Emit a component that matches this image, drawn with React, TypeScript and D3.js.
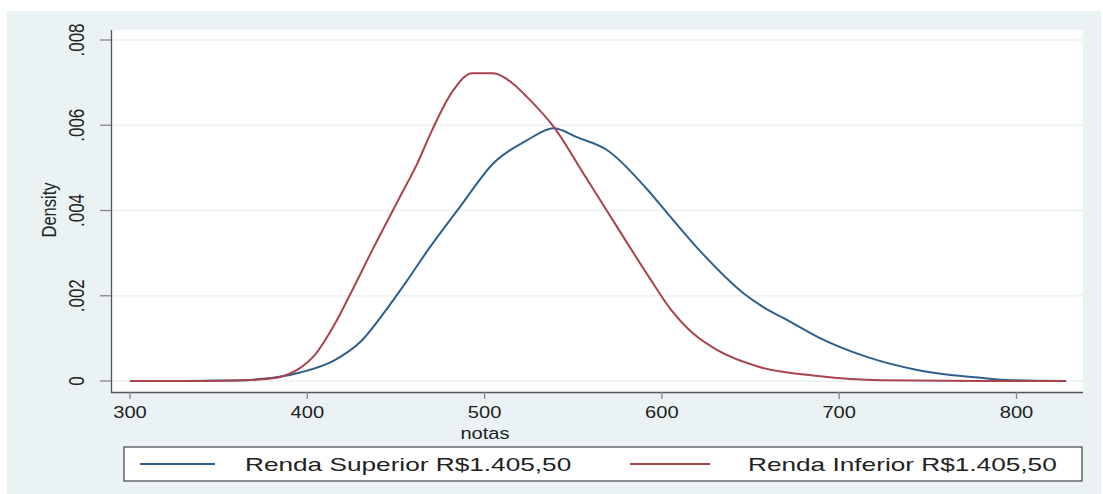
import React from "react";
import * as d3 from "d3";

const yTicks = [0, 0.002, 0.004, 0.006, 0.008];
const yTickLabels = ["0", ".002", ".004", ".006", ".008"];
const xTicks = [300, 400, 500, 600, 700, 800];

const superiorX = [300, 330, 355, 375, 396, 415, 430, 445, 457, 468, 486, 505, 524, 539, 552, 569, 592, 603, 622, 646, 657, 672, 688, 716, 744, 781, 797, 828];
const superiorY = [0, 0, 0.00001, 0.00005, 0.0002, 0.00048, 0.00092, 0.0017, 0.0024, 0.00307, 0.00408, 0.00511, 0.00565, 0.00593, 0.00572, 0.00542, 0.00448, 0.00394, 0.00303, 0.00206, 0.00174, 0.0014, 0.00103, 0.00056, 0.00026, 0.00007, 0.00002, 0];

const inferiorX = [300, 320, 340, 360, 375, 385, 395, 405, 415, 425, 437, 452, 462, 470, 482, 493, 505, 515, 524, 539, 556, 571, 581, 593, 605, 618, 631, 655, 688, 724, 780, 828];
const inferiorY = [0, 0, 0, 0.00001, 0.00004, 0.0001, 0.00028, 0.00065, 0.0013, 0.0021, 0.0031, 0.0043, 0.0051, 0.00585, 0.0068, 0.00722, 0.00722, 0.00701, 0.00666, 0.00596, 0.00485, 0.00386, 0.0032, 0.00242, 0.00168, 0.0011, 0.00073, 0.00033, 0.00012, 0.00002, 0, 0];

const seriesNames = ["Renda Superior R$1.405,50", "Renda Inferior R$1.405,50"];
const seriesColors = ["#2f5f8c", "#a8444c"];

const SX = 1.22;
const FONT = "'Liberation Sans', Arial, sans-serif";

export default function App() {
  const x = d3.scaleLinear().domain([300, 800]).range([130, 1016.5]);
  const y = d3.scaleLinear().domain([0, 0.008]).range([381, 40]);
  const line = d3
    .line<[number, number]>()
    .x((d) => x(d[0]))
    .y((d) => y(d[1]))
    .curve(d3.curveMonotoneX);
  const sup = superiorX.map((v, i) => [v, superiorY[i]] as [number, number]);
  const inf = inferiorX.map((v, i) => [v, inferiorY[i]] as [number, number]);

  const plotL = 112, plotR = 1083, plotT = 30, plotB = 392;

  return (
    <svg width={1103} height={494} style={{ position: "absolute", left: 0, top: 0 }} fontFamily={FONT}>
      <rect x={0} y={0} width={1103} height={494} fill="#ffffff" />
      <rect x={7} y={11} width={1094} height={483} fill="#eaf2f3" />
      <rect x={plotL} y={plotT} width={plotR - plotL} height={plotB - plotT} fill="#ffffff" />
      {yTicks.map((t) => (
        <line key={"g" + t} x1={plotL} x2={plotR} y1={y(t)} y2={y(t)} stroke="#eaf2f3" strokeWidth={1.5} />
      ))}
      <line x1={111.5} x2={111.5} y1={plotT} y2={plotB + 1} stroke="#555" strokeWidth={1.3} />
      <line x1={111} x2={plotR} y1={392.5} y2={392.5} stroke="#555" strokeWidth={1.3} />
      {yTicks.map((t, i) => (
        <g key={"y" + t}>
          <line x1={100} x2={111} y1={y(t)} y2={y(t)} stroke="#888" strokeWidth={1.3} />
          <text
            transform={`translate(84,${y(t)}) scale(1.28,1) rotate(-90)`}
            textAnchor="middle"
            fontSize={17}
            fill="#222"
          >
            {yTickLabels[i]}
          </text>
        </g>
      ))}
      <text transform={`translate(56,210) scale(${SX},1) rotate(-90)`} textAnchor="middle" fontSize={16.5} fill="#222">
        Density
      </text>
      {xTicks.map((t) => (
        <g key={"x" + t}>
          <line x1={x(t)} x2={x(t)} y1={392} y2={399} stroke="#888" strokeWidth={1.3} />
          <text transform={`translate(${x(t)},418) scale(${SX},1)`} textAnchor="middle" fontSize={16.5} fill="#222">
            {t}
          </text>
        </g>
      ))}
      <text transform={`translate(485,439) scale(${SX},1)`} textAnchor="middle" fontSize={16.5} fill="#222">
        notas
      </text>
      <path d={line(sup) || ""} fill="none" stroke={seriesColors[0]} strokeWidth={2} />
      <path d={line(inf) || ""} fill="none" stroke={seriesColors[1]} strokeWidth={2} />
      <rect x={124} y={447} width={958} height={34} fill="#ffffff" stroke="#444" strokeWidth={1.2} />
      <line x1={140} x2={215} y1={464} y2={464} stroke={seriesColors[0]} strokeWidth={2} />
      <text transform={`translate(245,471) scale(1.38,1)`} fontSize={19} fill="#222">
        {seriesNames[0]}
      </text>
      <line x1={630} x2={710} y1={464} y2={464} stroke={seriesColors[1]} strokeWidth={2} />
      <text transform={`translate(748,471) scale(1.38,1)`} fontSize={19} fill="#222">
        {seriesNames[1]}
      </text>
    </svg>
  );
}
